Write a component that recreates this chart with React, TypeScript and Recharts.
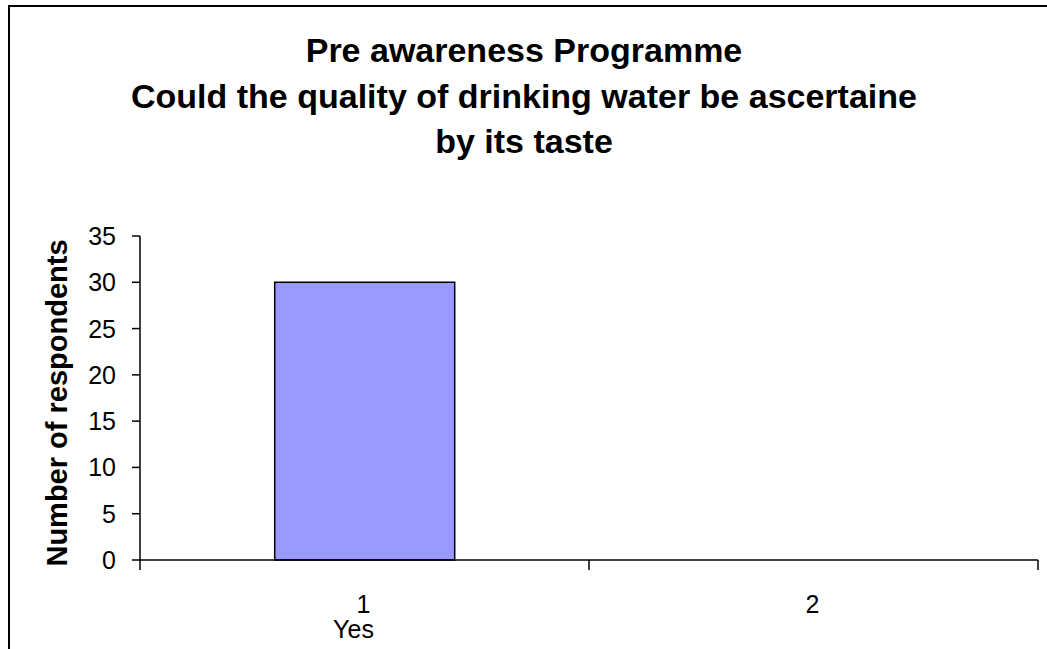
import { BarChart, Bar, XAxis, YAxis } from 'recharts';

const categories = ['1', '2'];
const subLabels = ['Yes', ''];
const respondents = [30, 0];
const yTicks = [0, 5, 10, 15, 20, 25, 30, 35];
const titleLines = [
  'Pre awareness Programme',
  'Could the quality of drinking water be ascertaine',
  'by its taste',
];

const data = categories.map((c, i) => ({ cat: c, sub: subLabels[i], value: respondents[i] }));

const FONT = '"Liberation Sans", Arial, sans-serif';

// category label plus tick marks at the band edges
// @ts-ignore
const CatTick = (props: any) => {
  const { x, y, payload, index, visibleTicksCount, width } = props;
  const half = payload?.offset ?? width / visibleTicksCount / 2;
  const top = y - 8;
  const sub = data[index]?.sub;
  return (
    <g fontFamily={FONT} fontSize={25} fill="#000">
      <line x1={x - half} x2={x - half} y1={top} y2={top + 10} stroke="#000" strokeWidth={1.5} />
      {index === visibleTicksCount - 1 && (
        <line x1={x + half} x2={x + half} y1={top} y2={top + 10} stroke="#000" strokeWidth={1.5} />
      )}
      <text x={x - 1} y={top + 53} textAnchor="middle">{payload.value}</text>
      {sub && <text x={x - 11} y={top + 78} textAnchor="middle">{sub}</text>}
    </g>
  );
};

// @ts-ignore
const ValTick = (props: any) => {
  const { x, y, payload } = props;
  return (
    <text x={x - 14} y={y + 9} textAnchor="end" fontSize={25} fontFamily={FONT} fill="#000">
      {payload.value}
    </text>
  );
};

// @ts-ignore
const YLabel = ({ viewBox }: any) => {
  const cx = viewBox.x + 67;
  const cy = viewBox.y + viewBox.height / 2 + 5;
  return (
    <text
      transform={`translate(${cx}, ${cy}) rotate(-90)`}
      textAnchor="middle"
      fontSize={29}
      fontWeight="bold"
      fontFamily={FONT}
      fill="#000"
    >
      Number of respondents
    </text>
  );
};

export default function App() {
  return (
    <div
      style={{
        position: 'fixed', left: 0, top: 0, width: 1047, height: 649,
        overflow: 'hidden', background: '#fff',
      }}
    >
      <div
        style={{
          position: 'absolute', left: 8, top: 5, width: 1200, height: 800,
          border: '2px solid #000', boxSizing: 'border-box',
        }}
      />
      <svg width={1047} height={180} style={{ position: 'absolute', left: 0, top: 0 }}>
        {titleLines.map((t, i) => (
          <text
            key={t}
            x={524}
            y={62 + i * 45.5}
            textAnchor="middle"
            fontSize={34}
            fontWeight="bold"
            fontFamily={FONT}
            fill="#000"
          >
            {t}
          </text>
        ))}
      </svg>
      <div style={{ position: 'absolute', left: 0, top: 0 }}>
        <BarChart
          width={1047}
          height={649}
          data={data}
          margin={{ top: 236, right: 9, bottom: 0, left: 0 }}
          barCategoryGap="30%"
        >
          <XAxis
            dataKey="cat"
            height={89}
            axisLine={{ stroke: '#000', strokeWidth: 1.5 }}
            tickLine={false}
            tick={<CatTick />}
            interval={0}
          />
          <YAxis
            domain={[0, 35]}
            ticks={yTicks}
            width={140}
            interval={0}
            axisLine={{ stroke: '#000', strokeWidth: 1.5 }}
            tickLine={{ stroke: '#000', strokeWidth: 1.5 }}
            tickSize={8}
            tick={<ValTick />}
            label={<YLabel />}
          />
          <Bar dataKey="value" fill="#9999ff" stroke="#000" strokeWidth={1.5} isAnimationActive={false} />
        </BarChart>
      </div>
    </div>
  );
}
